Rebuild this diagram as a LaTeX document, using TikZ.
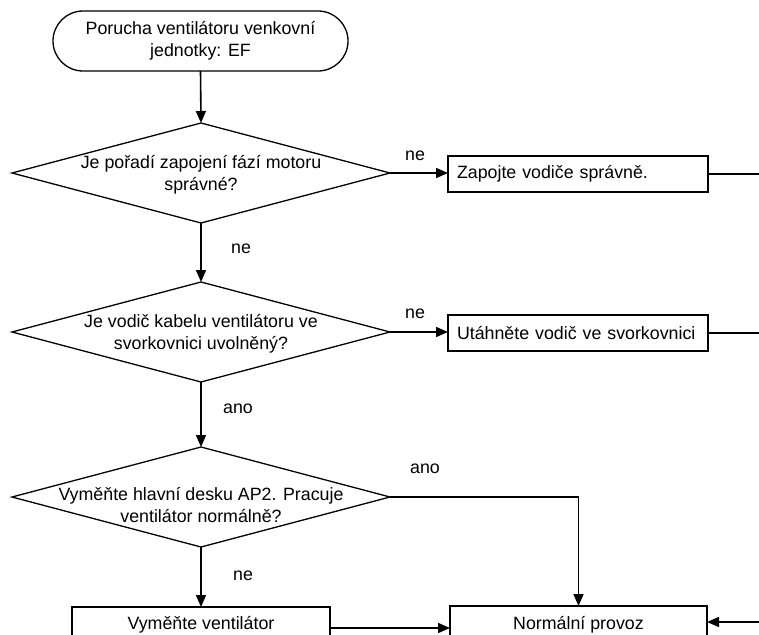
\documentclass[tikz,border=0pt]{standalone}
\usepackage{fontspec}
\setmainfont{Liberation Sans}
\usetikzlibrary{shapes.geometric,arrows.meta}
\tikzset{
  every node/.style={font=\fontsize{17.8pt}{22.5pt}\selectfont, outer sep=0pt},
  shp/.style={draw, line width=1.3pt},
  term/.style={shp, rectangle, rounded corners=30pt, minimum width=295pt, minimum height=60pt, align=center, inner sep=0pt},
  dec/.style={shp, diamond, minimum width=378pt, minimum height=100pt, inner sep=0pt},
  dtext/.style={align=center, inner sep=0pt},
  lbox/.style={shp, rectangle, text width=242pt, inner xsep=9pt, minimum height=36pt, align=left},
  cbox/.style={shp, rectangle, minimum height=42pt, inner sep=0pt},
  lab/.style={inner sep=0pt},
  arr/.style={line width=1.6pt, -{Triangle[length=12pt,width=10pt]}},
  ln/.style={line width=1.6pt}
}
\begin{document}
\begin{tikzpicture}[x=1pt,y=-1pt]
\useasboundingbox (0,0) rectangle (759,634);
\clip (0,0) rectangle (759,634);
\node[term] (start) at (200.5,41) {Porucha ventilátoru venkovní\\jednotky: EF};
\node[dec] (d1) at (201,173) {};
\node[dtext] (d1t) at (201,175) {Je pořadí zapojení fází motoru\\správné?};
\node[dec] (d2) at (201,332) {};
\node[dtext] (d2t) at (201,334) {Je vodič kabelu ventilátoru ve\\svorkovnici uvolněný?};
\node[dec] (d3) at (201,497) {};
\node[dtext] (d3t) at (201,505) {Vyměňte hlavní desku AP2. Pracuje\\ventilátor normálně?};
\node[lbox, anchor=west] (b1) at (448,174) {Zapojte vodiče správně.};
\node[lbox, anchor=west] (b2) at (448,333) {Utáhněte vodič ve svorkovnici};
\node[cbox, minimum width=258pt] (b3) at (201,628) {};
\node[cbox, minimum width=257pt, minimum height=44pt] (b4) at (578.5,628) {};
\node[anchor=base, inner sep=0pt] (b3t) at (201,629) {Vyměňte ventilátor};
\node[anchor=base, inner sep=0pt] (b4t) at (578.5,629) {Normální provoz};
\coordinate (r1) at (759,174);
\coordinate (r2) at (759,333);
\coordinate (r4) at (759,622);
% connectors
\draw[arr] (start.south) -- (d1.north);
\draw[arr] (d1.east) -- (b1.west |- d1.east);
\draw[arr] (d1.south) -- (d2.north);
\draw[arr] (d2.east) -- (b2.west |- d2.east);
\draw[arr] (d2.south) -- (d3.north);
\draw[arr] (d3.south) -- (b3.north);
\draw[arr] (d3.east) -| (b4.north);
\draw[arr] (b3.east) -- (b4.west);
\draw[ln] (b1.east) -- (r1);
\draw[ln] (b2.east) -- (r2);
\draw[arr] (r4) -- (r4 -| b4.east);
% labels
\node[lab] (l1) at (415,156) {ne};
\node[lab] (l2) at (241,249) {ne};
\node[lab] (l3) at (415,314) {ne};
\node[lab] (l4) at (238,409) {ano};
\node[lab] (l5) at (425,469) {ano};
\node[lab] (l6) at (243,576) {ne};
\end{tikzpicture}
\end{document}
